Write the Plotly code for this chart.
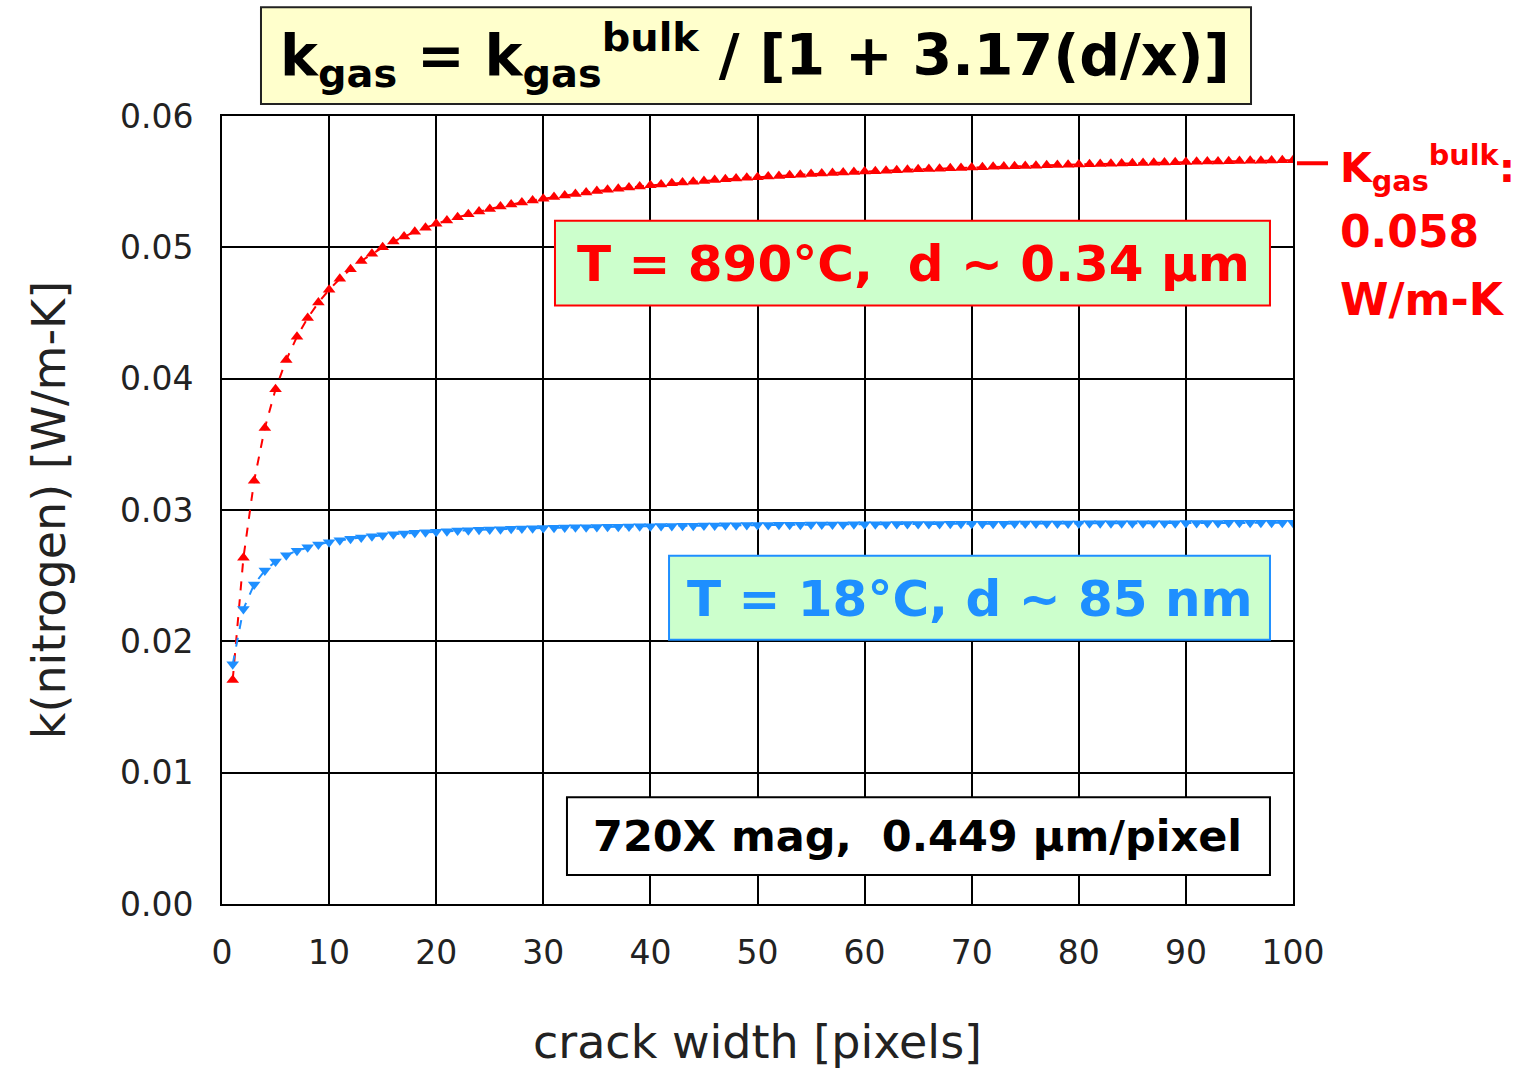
import plotly.graph_objects as go

# Crack width in pixels (one point per pixel)
crack_width = list(range(1, 101))

# Thermal conductivity of nitrogen in the crack, T = 890 °C
k_890C = [
    0.01706, 0.02636, 0.03222, 0.03625, 0.03919, 0.04143, 0.04319, 0.04462, 0.04579, 0.04677,
    0.04761, 0.04833, 0.04896, 0.04951, 0.05000, 0.05044, 0.05083, 0.05118, 0.05150, 0.05179,
    0.05205, 0.05230, 0.05252, 0.05273, 0.05292, 0.05310, 0.05327, 0.05342, 0.05357, 0.05370,
    0.05383, 0.05395, 0.05407, 0.05418, 0.05428, 0.05438, 0.05447, 0.05455, 0.05464, 0.05472,
    0.05479, 0.05487, 0.05493, 0.05500, 0.05506, 0.05512, 0.05518, 0.05524, 0.05529, 0.05534,
    0.05539, 0.05544, 0.05549, 0.05553, 0.05558, 0.05562, 0.05566, 0.05570, 0.05573, 0.05577,
    0.05580, 0.05584, 0.05587, 0.05590, 0.05594, 0.05597, 0.05599, 0.05602, 0.05605, 0.05608,
    0.05610, 0.05613, 0.05615, 0.05618, 0.05620, 0.05622, 0.05625, 0.05627, 0.05629, 0.05631,
    0.05633, 0.05635, 0.05637, 0.05639, 0.05641, 0.05643, 0.05644, 0.05646, 0.05648, 0.05649,
    0.05651, 0.05653, 0.05654, 0.05656, 0.05657, 0.05659, 0.05660, 0.05661, 0.05663, 0.05664,
]

# Thermal conductivity of nitrogen in the crack, T = 18 °C
k_18C = [
    0.01825, 0.02246, 0.02433, 0.02539, 0.02607, 0.02655, 0.02690, 0.02716, 0.02738, 0.02755,
    0.02769, 0.02781, 0.02791, 0.02800, 0.02808, 0.02815, 0.02821, 0.02826, 0.02831, 0.02835,
    0.02839, 0.02843, 0.02846, 0.02849, 0.02852, 0.02854, 0.02857, 0.02859, 0.02861, 0.02863,
    0.02865, 0.02866, 0.02868, 0.02869, 0.02871, 0.02872, 0.02873, 0.02875, 0.02876, 0.02877,
    0.02878, 0.02879, 0.02880, 0.02881, 0.02882, 0.02882, 0.02883, 0.02884, 0.02885, 0.02885,
    0.02886, 0.02887, 0.02887, 0.02888, 0.02889, 0.02889, 0.02890, 0.02890, 0.02891, 0.02891,
    0.02892, 0.02892, 0.02893, 0.02893, 0.02893, 0.02894, 0.02894, 0.02895, 0.02895, 0.02895,
    0.02896, 0.02896, 0.02896, 0.02897, 0.02897, 0.02897, 0.02897, 0.02898, 0.02898, 0.02898,
    0.02899, 0.02899, 0.02899, 0.02899, 0.02900, 0.02900, 0.02900, 0.02900, 0.02900, 0.02901,
    0.02901, 0.02901, 0.02901, 0.02902, 0.02902, 0.02902, 0.02902, 0.02902, 0.02902, 0.02903,
]

x_ticks = [0, 10, 20, 30, 40, 50, 60, 70, 80, 90, 100]
y_ticks = [0.00, 0.01, 0.02, 0.03, 0.04, 0.05, 0.06]
k_bulk_level = 0.0564

RED = "#FF0000"
BLUE = "#1E8FFF"
LABEL_FONT = "DejaVu Sans"
AXIS_FONT = "DejaVu Sans"

fig = go.Figure()

fig.add_trace(go.Scatter(
    x=crack_width, y=k_890C, mode="lines+markers",
    line=dict(color=RED, width=2, dash="dash"),
    marker=dict(symbol="triangle-up", size=11, color=RED),
    showlegend=False,
))
fig.add_trace(go.Scatter(
    x=crack_width, y=k_18C, mode="lines+markers",
    line=dict(color=BLUE, width=2, dash="dash"),
    marker=dict(symbol="triangle-down", size=11, color=BLUE),
    showlegend=False,
))

shapes = [
    # formula banner
    dict(type="rect", xref="paper", yref="paper", x0=0.0364, x1=0.9608, y0=1.0152, y1=1.138,
         fillcolor="#FFFFCC", line=dict(color="#222", width=2), layer="above"),
    # 890 °C label box
    dict(type="rect", xref="paper", yref="paper", x0=0.3109, x1=0.9785, y0=0.7595, y1=0.8671,
         fillcolor="#CCFFCC", line=dict(color=RED, width=2), layer="above"),
    # 18 °C label box
    dict(type="rect", xref="paper", yref="paper", x0=0.4174, x1=0.9785, y0=0.3354, y1=0.4418,
         fillcolor="#CCFFCC", line=dict(color=BLUE, width=2), layer="above"),
    # magnification box
    dict(type="rect", xref="paper", yref="paper", x0=0.3221, x1=0.9785, y0=0.0367, y1=0.1354,
         fillcolor="white", line=dict(color="black", width=2), layer="above"),
    # bulk value marker
    dict(type="line", xref="paper", yref="y", x0=1.0037, x1=1.0327, y0=k_bulk_level, y1=k_bulk_level,
         line=dict(color=RED, width=4), layer="above"),
]

def label(text, x, y, size, color, xanchor="center"):
    return dict(text=text, xref="paper", yref="paper", x=x, y=y,
                xanchor=xanchor, yanchor="middle", showarrow=False,
                font=dict(family=LABEL_FONT, size=size, color=color, weight="bold"))

annotations = [
    label("k<sub>gas</sub> = k<sub>gas</sub><sup>bulk</sup> / [1 + 3.17(d/x)]", 0.4977, 1.0772, 57, "black"),
    label("T = 890°C,  d ~ 0.34 µm", 0.6452, 0.8127, 50, RED),
    label("T = 18°C, d ~ 85 nm", 0.6984, 0.3873, 50, BLUE),
    label("720X mag,  0.449 µm/pixel", 0.649, 0.0861, 43, "black"),
    label("K<sub>gas</sub><sup>bulk</sup>:", 1.042, 0.934, 41, RED, "left"),
    label("0.058", 1.042, 0.853, 44, RED, "left"),
    label("W/m-K", 1.042, 0.767, 44, RED, "left"),
]

fig.update_layout(
    width=1520, height=1071,
    margin=dict(l=222, r=227, t=116, b=165),
    paper_bgcolor="white", plot_bgcolor="white",
    shapes=shapes, annotations=annotations,
    xaxis=dict(
        range=[0, 100], tickvals=x_ticks, ticktext=[str(v) for v in x_ticks],
        showgrid=True, gridcolor="black", gridwidth=2,
        showline=True, linecolor="black", linewidth=2, mirror=True,
        zeroline=False, ticks="", ticklabelstandoff=18,
        tickfont=dict(family=AXIS_FONT, size=33, color="#222"),
        title=dict(text="crack width [pixels]", standoff=55,
                   font=dict(family=AXIS_FONT, size=46, color="#222")),
    ),
    yaxis=dict(
        range=[0, 0.06], tickvals=y_ticks, ticktext=[f"{v:.2f}" for v in y_ticks],
        showgrid=True, gridcolor="black", gridwidth=2,
        showline=True, linecolor="black", linewidth=2, mirror=True,
        zeroline=False, ticks="", ticklabelstandoff=20,
        tickfont=dict(family=AXIS_FONT, size=33, color="#222"),
        title=dict(text="k(nitrogen) [W/m-K]", standoff=40,
                   font=dict(family=AXIS_FONT, size=46, color="#222")),
    ),
)

fig.write_html("out.html")
